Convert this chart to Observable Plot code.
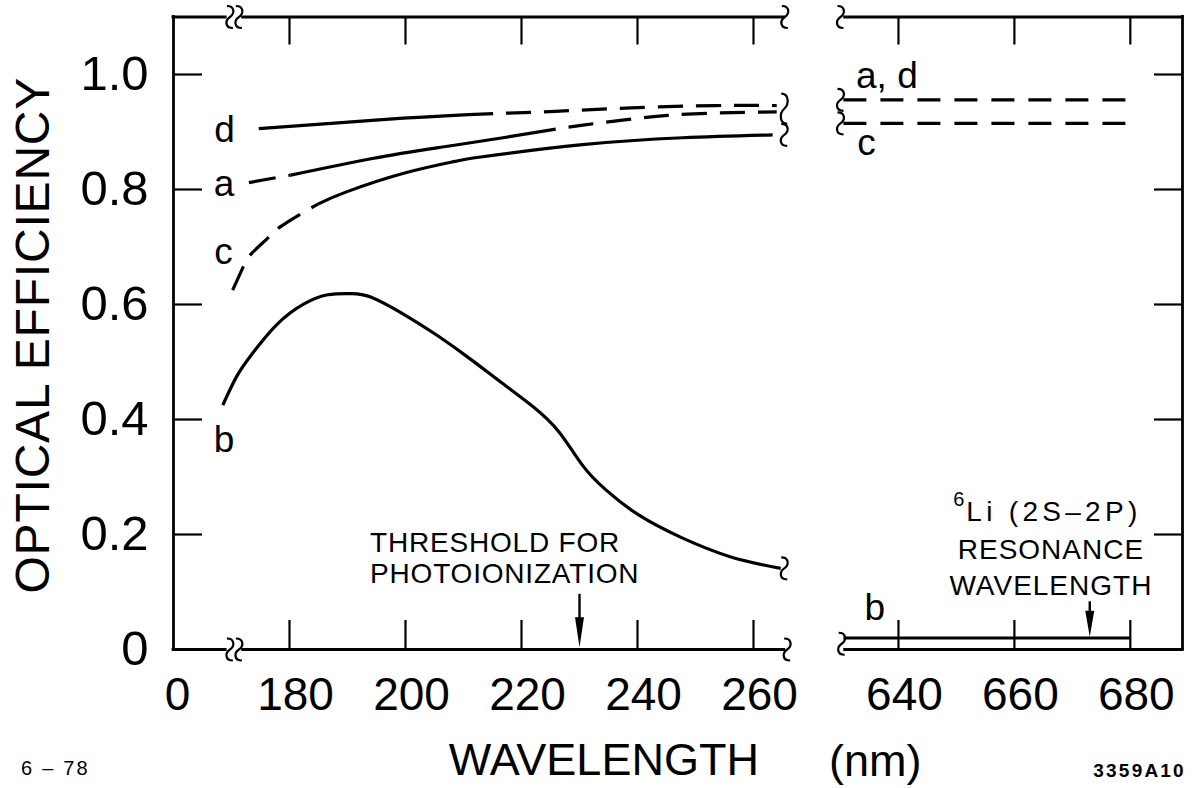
<!DOCTYPE html>
<html><head><meta charset="utf-8">
<script src="https://cdn.jsdelivr.net/npm/d3@7"></script>
<script src="https://cdn.jsdelivr.net/npm/@observablehq/plot@0.6"></script>
<style>
html,body{margin:0;padding:0;background:#fff;overflow:hidden}
#chart svg{display:block}
</style></head><body><div id="chart"></div>
<script>
// ---- data (wavelength nm, optical efficiency) ----
const yTickValues = [0, 0.2, 0.4, 0.6, 0.8, 1.0];
const yTickLabels = ["0", "0.2", "0.4", "0.6", "0.8", "1.0"];
const xTicksUV = [180, 200, 220, 240, 260];
const xTicksRed = [640, 660, 680];
const xOriginLabel = "0";

const dSolid = [[174.7,0.906],[199.6,0.924],[215.1,0.932]];
const dDashed = [[215.1,0.932],[225.8,0.936],[238.9,0.942],[253.4,0.946],[264,0.946]];
const aDashedStart = [[173.0,0.812],[177.9,0.821],[180.2,0.825]];
const aSolid = [[180.2,0.825],[194.3,0.854],[205.8,0.873],[216.8,0.890],[225.9,0.905]];
const aDashedEnd = [[225.9,0.905],[230.6,0.912],[237.8,0.921],[245.2,0.929],[253.5,0.933],[260.4,0.9345],[264,0.935]];
const cDashed = [[170.2,0.625],[172.0,0.665],[173.4,0.688],[176.3,0.716],[178.4,0.735],[182.7,0.762],[185.0,0.775]];
const cSolid = [[185.0,0.775],[189.6,0.795],[200.0,0.829],[208.6,0.849],[213.3,0.857],[230.5,0.878],[247.8,0.890],[263.3,0.895]];
const bSolid = [[168.5,0.425],[170.9,0.475],[173.7,0.516],[177.9,0.566],[182.5,0.601],[186.6,0.617],[190.6,0.619],[194.0,0.613],[199.7,0.583],[205.5,0.546],[211.2,0.505],[216.3,0.466],[221.9,0.423],[226.5,0.378],[230.4,0.322],[234.5,0.278],[240.2,0.234],[247.5,0.195],[256.1,0.161],[264.7,0.141]];
const adRed = [[630.5,0.956],[680,0.956]];
const cRed = [[630.5,0.915],[680,0.915]];
const bRed = [[630.5,0.02],[680,0.02]];

const thresholdNm = 230;
const resonanceNm = 673;

// ---- layout ----
const X_DOMAIN = [160, 266, 630, 689];
const X_RANGE = [173, 787.8, 840, 1182];
const Y0 = 649, YT = 16.5, FRAME_H = Y0 - YT, FRAME_W = X_RANGE[3] - X_RANGE[0];
const FONT = "Liberation Sans, Arial, sans-serif";

const frameSegments = [{x1:160,x2:169},{x1:172,x2:265.3},{x1:630.8,x2:689}];
const headUV = {draw(ctx){ctx.moveTo(0,0);ctx.lineTo(-4.5,-30);ctx.lineTo(4.5,-30);ctx.closePath();}};
const headLi = {draw(ctx){ctx.moveTo(0,0);ctx.lineTo(-4.5,-26);ctx.lineTo(4.5,-26);ctx.closePath();}};
const squiggle = h => ({draw(ctx){const a=h/2;ctx.moveTo(-3,-a);ctx.bezierCurveTo(5,-a,5,-a*0.3,0,0);ctx.bezierCurveTo(-5,a*0.3,-5,a,3,a);}});

const xy = {x: d => d[0], y: d => d[1], curve: "natural", strokeWidth: 3.2, strokeLinecap: "butt"};
const squig = (pts, h = 22, dx = 0) => Plot.dot(pts, {x: d => d[0], y: d => d[1], symbol: squiggle(h), fill: "none", stroke: "black", strokeWidth: 2.2, dx});

const yInner = yTickValues.filter(v => v > 0);
const xAll = [...xTicksUV, ...xTicksRed];

const chart = Plot.plot({
  width: 1197, height: 788,
  marginLeft: X_RANGE[0], marginRight: 1197 - X_RANGE[3], marginTop: YT, marginBottom: 788 - Y0,
  x: {type: "linear", domain: X_DOMAIN, range: X_RANGE, axis: null},
  y: {type: "linear", domain: [0, 1.1], range: [Y0, YT], axis: null},
  style: {fontFamily: FONT, background: "white", color: "black", overflow: "visible"},
  marks: [
    // frame
    Plot.ruleX([160, 689], {strokeWidth: 2.8, strokeLinecap: "square"}),
    Plot.ruleY(frameSegments, {y: 0, x1: "x1", x2: "x2", strokeWidth: 2.8, strokeLinecap: "square"}),
    Plot.ruleY(frameSegments, {y: 1.1, x1: "x1", x2: "x2", strokeWidth: 2.8, strokeLinecap: "square"}),
    // inward ticks
    Plot.ruleX(xAll, {insetTop: FRAME_H - 29, strokeWidth: 2.2}),
    Plot.ruleX(xAll, {insetBottom: FRAME_H - 28, strokeWidth: 2.2}),
    Plot.ruleY(yInner, {insetRight: FRAME_W - 29, strokeWidth: 2.2}),
    Plot.ruleY(yInner, {insetLeft: FRAME_W - 28, strokeWidth: 2.2}),
    // tick labels
    Plot.text(yTickValues, {x: 160, y: d => d, text: (d, i) => yTickLabels[i], textAnchor: "end", dx: -25, fontSize: 49}),
    Plot.text(xAll, {x: d => d, y: 0, text: d => String(d), dy: 45.5, dx: 6, fontSize: 46}),
    Plot.text([xOriginLabel], {x: 160, y: 0, text: d => d, dy: 45.5, dx: 4, fontSize: 46}),
    // axis titles
    Plot.text(["OPTICAL EFFICIENCY"], {x: 160, y: 0.5466, dx: -140, rotate: -90, fontSize: 48}),
    Plot.text(["WAVELENGTH"], {x: 234.2, y: 0, dy: 111, fontSize: 45}),
    Plot.text(["(nm)"], {x: 636, y: 0, dy: 112.5, fontSize: 45}),
    Plot.text(["6 – 78"], {x: 160, y: 0, dx: -118, dy: 119.5, fontSize: 20}),
    Plot.text(["3359A10"], {x: 681.6, y: 0, dy: 121.3, fontSize: 19, fontWeight: "bold"}),
    // curves, UV segment
    Plot.line(dSolid, xy),
    Plot.line(dDashed, {...xy, strokeDasharray: "25,13", strokeDashoffset: 25}),
    Plot.line(aDashedStart, {...xy, strokeDasharray: "27,13"}),
    Plot.line(aSolid, xy),
    Plot.line(aDashedEnd, {...xy, strokeDasharray: "25,13", strokeDashoffset: 25}),
    Plot.line(cDashed, {...xy, strokeDasharray: "26,13"}),
    Plot.line(cSolid, xy),
    Plot.line(bSolid, xy),
    // curves, red segment
    Plot.line(adRed, {...xy, strokeDasharray: "23,14"}),
    Plot.line(cRed, {...xy, strokeDasharray: "23,14"}),
    Plot.line(bRed, xy),
    // break marks
    squig([[170.5, 1.1], [170.5, 0]], 22, -4.5),
    squig([[170.5, 1.1], [170.5, 0]], 22, 4.5),
    squig([[265.4, 1.1], [265.8, 0], [265.3, 0.895], [265.3, 0.141]]),
    squig([[265.3, 0.9405]], 30),
    squig([[629.8, 1.1], [629.8, 0.956], [629.8, 0.915], [630.2, 0.01]]),
    // curve labels
    Plot.text([["d",168.8,0.9037],["a",168.7,0.809],["c",168.6,0.6906],["b",168.7,0.3645],["a, d",638.0,0.9969],["c",634.5,0.8798],["b",635.9,0.0725]],
      {x: d => d[1], y: d => d[2], text: d => d[0], fontSize: 37}),
    // annotations
    Plot.text(["THRESHOLD FOR\nPHOTOIONIZATION"], {x: 193.9, y: 0.16, textAnchor: "start", fontSize: 28, lineHeight: 1.107}),
    Plot.ruleX([thresholdNm], {y1: 0.03, y2: 0.096, strokeWidth: 2.4}),
    Plot.dot([thresholdNm], {x: d => d, y: 0.004, symbol: headUV, fill: "black", stroke: "none"}),
    Plot.text(["6"], {x: 650.4, y: 0.2605, fontSize: 20}),
    Plot.text(["Li (2S–2P)"], {x: 651.7, y: 0.2388, textAnchor: "start", fontSize: 28}),
    Plot.text(["RESONANCE\nWAVELENGTH"], {x: 666.3, y: 0.1462, fontSize: 28, lineHeight: 1.3}),
    Plot.ruleX([resonanceNm], {y1: 0.05, y2: 0.083, strokeWidth: 2.4}),
    Plot.dot([resonanceNm], {x: d => d, y: 0.022, symbol: headLi, fill: "black", stroke: "none"})
  ]
});
// letter spacing to match the wide stencil lettering
const spacing = [["Li (2S", 4.3], ["THRESHOLD", 0.8], ["RESONANCE", 1.0], ["OPTICAL", 0.8], ["6 – 78", 2.2], ["3359A10", 2.2]];
d3.select(chart).selectAll("text").each(function () {
  const t = this.textContent;
  for (const [k, v] of spacing) if (t.startsWith(k)) this.setAttribute("letter-spacing", v);
});
document.getElementById("chart").appendChild(chart);
</script></body></html>
